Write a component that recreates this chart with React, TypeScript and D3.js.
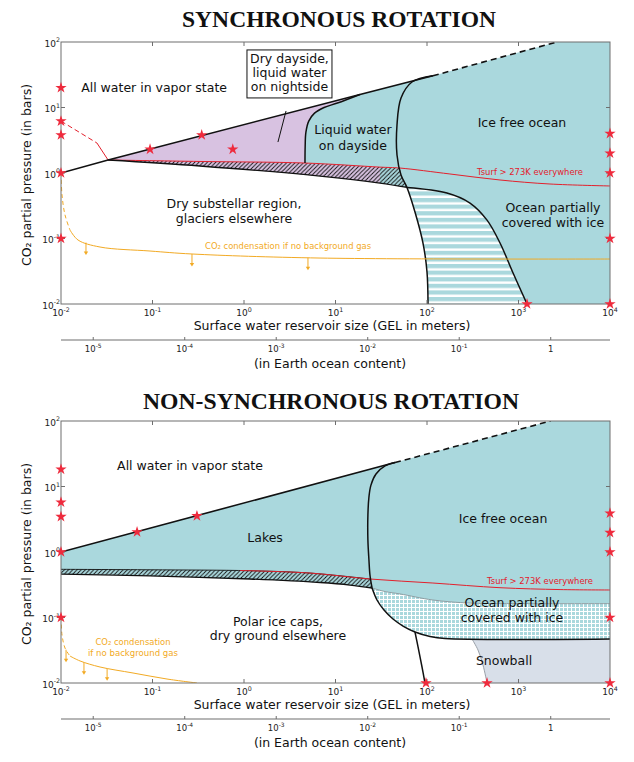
import React from 'react';
import * as d3 from 'd3';

type P = [number, number];

// axis ticks
const gelTicks = [1e-2, 1e-1, 1, 10, 100, 1e3, 1e4];
const gelTickExp = ['-2', '-1', '0', '1', '2', '3', '4'];
const pTicks = [1e-2, 1e-1, 1, 10, 100];
const pTickExp = ['-2', '-1', '0', '1', '2'];
const oceanTicks = [1e-5, 1e-4, 1e-3, 1e-2, 1e-1, 1];
const oceanTickExp = ['-5', '-4', '-3', '-2', '-1', ''];
const EARTH_OCEAN_GEL = 2250; // meters of GEL for one Earth ocean

// ---------- synchronous rotation ----------
const syncVapor: P[] = [[0.01, 1], [0.0327, 1.58], [18.5, 15.8], [116, 30.5]];
const syncVaporDashed: P[] = [[116, 30.5], [2630, 100]];
const syncDayside: P[] = [[4.64, 1.42], [4.66, 2.5], [4.75, 4.2], [5.1, 6.2], [5.9, 8.2], [7.5, 10.0], [10.5, 11.7], [18.5, 15.8]];
const syncOcean: P[] = [[116, 30.5], [68.5, 24.5], [52, 13.96], [47, 5.41], [47, 1.88], [52, 0.931], [60.4, 0.601], [73.9, 0.254], [90.4, 0.0853], [100, 0.0308], [102.6, 0.01]];
const syncIceEdge: P[] = [[60.4, 0.601], [165, 0.495], [295, 0.348], [453, 0.191], [628, 0.0853], [872, 0.0297], [1239, 0.01]];
const syncBandBottom: P[] = [[0.0327, 1.58], [0.33, 1.28], [6.78, 0.899], [30.6, 0.703], [60.4, 0.601]];
const syncTsurf: P[] = [[0.0327, 1.58], [0.33, 1.5], [4.64, 1.42], [30.6, 1.23], [50.7, 1.19], [178, 0.966], [628, 0.782], [2208, 0.679], [1e4, 0.634]];
const syncTsurfDashed: P[] = [[0.01, 6.2], [0.0247, 2.87]];
const syncTsurfLink: P[] = [[0.0247, 2.87], [0.0327, 1.58]];
const syncCo2Dashed: P[] = [[0.01, 1], [0.01026, 0.461], [0.01106, 0.229], [0.01253, 0.135]];
const syncCo2: P[] = [[0.01253, 0.135], [0.01535, 0.0948], [0.0267, 0.0741], [0.094, 0.0644], [0.27, 0.058], [6.78, 0.0503], [1e4, 0.0486]];
const syncArrows = [0.01875, 0.27, 5.0];
const syncStars: P[] = [
  [0.01, 20], [0.01, 6.2], [0.01, 3.8], [0.01, 1], [0.01, 0.1],
  [0.094, 2.3], [0.345, 3.8], [0.754, 2.3],
  [1e4, 4], [1e4, 2], [1e4, 1], [1e4, 0.1], [1e4, 0.01], [1239, 0.01],
];

// ---------- non-synchronous rotation ----------
const nsVapor: P[] = [[0.01, 1], [44.7, 23.2]];
const nsVaporDashed: P[] = [[44.7, 23.2], [2240, 100]];
const nsOceanUpper: P[] = [[44.7, 23.2], [34.8, 20.6], [27.7, 15.5], [24.4, 10.5], [23.2, 6.92], [22.6, 3.67], [22.6, 1.52], [23.2, 0.755], [23.8, 0.446], [25.1, 0.282]];
const nsOceanLower: P[] = [[25.1, 0.282], [28.4, 0.185], [33.9, 0.13], [42.5, 0.0948], [54.7, 0.0741], [73.9, 0.0601], [108, 0.0513], [157, 0.0477], [1e4, 0.047]];
const nsDryEdge: P[] = [[73.9, 0.0601], [79.8, 0.0355], [88.2, 0.01754], [95, 0.01]];
const nsBandTop: P[] = [[0.01, 0.544], [0.094, 0.535], [1.16, 0.518], [5.26, 0.477], [23.8, 0.387]];
const nsBandBottom: P[] = [[0.01, 0.461], [0.094, 0.431], [1.16, 0.387], [6.78, 0.342], [14.4, 0.313], [25.1, 0.282]];
const nsTsurf: P[] = [[0.9, 0.522], [5.26, 0.477], [23.8, 0.387], [116, 0.336], [628, 0.285], [2845, 0.267], [1e4, 0.263]];
const nsIceTop: P[] = [[25.1, 0.282], [34.8, 0.249], [50.7, 0.229], [116, 0.185], [295, 0.166], [1037, 0.163], [1e4, 0.163]];
const nsSnowEdge: P[] = [[310, 0.047], [361, 0.0319], [409, 0.01884], [453, 0.01]];
const nsCo2Dashed: P[] = [[0.01, 0.1], [0.01026, 0.054], [0.01106, 0.0342], [0.01253, 0.0258]];
const nsCo2: P[] = [[0.01253, 0.0258], [0.01615, 0.0217], [0.0267, 0.01755], [0.0612, 0.01422], [0.144, 0.0115], [0.306, 0.01]];
const nsArrows = [0.01135, 0.01782, 0.0319];
const nsStars: P[] = [
  [0.01, 18.3], [0.01, 5.74], [0.01, 3.46], [0.01, 1], [0.01, 0.1],
  [0.0678, 2.02], [0.306, 3.55],
  [1e4, 3.9], [1e4, 1.97], [1e4, 1], [1e4, 0.1], [1e4, 0.01], [97.5, 0.01], [453, 0.01],
];

const X0 = 61, X1 = 610, PH = 262;
const FONT = 'DejaVu Sans, sans-serif';
const TEAL = '#aad8dd', PURPLE = '#d8c2e1', SNOW = '#d8dfe9';
const RED = '#e3202c', STAR = '#ee2b3d', ORANGE = '#f2aa24', INK = '#111';

const smooth = d3.curveCatmullRom.alpha(0.5);

function makeTools(x, y) {
  const seg = (pts: P[], curve: any = smooth) =>
    d3.line<P>().x(d => x(d[0])).y(d => y(d[1])).curve(curve)(pts) as string;
  const poly = (...parts: string[]) => parts.map((s, i) => (i ? s.replace(/^M/, 'L') : s)).join('') + 'Z';
  const rev = (pts: P[]) => pts.slice().reverse();
  return { seg, poly, rev };
}

// value of a log-log polyline at xv
function interpLog(pts: P[], xv: number) {
  const lx = Math.log10(xv);
  for (let i = 0; i < pts.length - 1; i++) {
    const a = Math.log10(pts[i][0]), b = Math.log10(pts[i + 1][0]);
    if (lx >= a && lx <= b) {
      const t = (lx - a) / (b - a);
      return Math.pow(10, Math.log10(pts[i][1]) + t * (Math.log10(pts[i + 1][1]) - Math.log10(pts[i][1])));
    }
  }
  return pts[pts.length - 1][1];
}

function Pow({ x, y, exp, anchor, size = 9 }) {
  return (
    <text x={x} y={y} textAnchor={anchor} fontFamily={FONT} fontSize={size} fill="#222">
      10<tspan fontSize={size * 0.7} dy={-size * 0.45}>{exp}</tspan>
    </text>
  );
}

function Stars({ pts, x, y }) {
  const star = d3.symbol(d3.symbolStar, 40)() as string;
  return <g>{pts.map((p, i) => <path key={i} d={star} transform={`translate(${x(p[0])},${y(p[1])})`} fill={STAR} />)}</g>;
}

function Arrows({ xs, line, x, y }) {
  return (
    <g>
      {xs.map((v, i) => {
        const px = x(v), py = y(interpLog(line, v));
        return (
          <g key={i}>
            <line x1={px} x2={px} y1={py} y2={py + 10} stroke={ORANGE} strokeWidth={1} />
            <path d={`M${px - 2.2},${py + 9}L${px + 2.2},${py + 9}L${px},${py + 12.5}Z`} fill={ORANGE} />
          </g>
        );
      })}
    </g>
  );
}

function Lines({ lines, x, y, size = 12.5, color = INK, gap = 15, anchor = 'middle', at, widths = null }) {
  const cx = x(at[0]), cy = y(at[1]);
  const n = lines.length;
  return (
    <g>
      {lines.map((l, i) => (
        <text key={i} x={cx} y={cy + (i - (n - 1) / 2) * gap} dominantBaseline="central"
          fontFamily={FONT} fontSize={size} fill={color} textAnchor={anchor}
          textLength={widths ? widths[i] : undefined} lengthAdjust={widths ? 'spacingAndGlyphs' : undefined}>{l}</text>
      ))}
    </g>
  );
}

function Frame({ top, title, titleX, titleY, titleW, draw }) {
  const x = d3.scaleLog().domain([1e-2, 1e4]).range([X0, X1]);
  const y = d3.scaleLog().domain([1e-2, 1e2]).range([top + PH, top]);
  const bottom = top + PH;
  const clipId = `clip${top}`;
  const parts = draw(x, y, makeTools(x, y));
  const ocean = d3.scaleLog().domain([1e-2 / EARTH_OCEAN_GEL, 1e4 / EARTH_OCEAN_GEL]).range([X0, X1]);
  const oy = bottom + 36;
  return (
    <g>
      <text x={titleX} y={titleY} textLength={titleW} lengthAdjust="spacingAndGlyphs"
        fontFamily="Liberation Serif, serif" fontWeight="bold" fontSize={23} fill={INK}>{title}</text>
      <defs>
        <clipPath id={clipId}><rect x={X0} y={top} width={X1 - X0} height={PH} /></clipPath>
      </defs>
      <g clipPath={`url(#${clipId})`}>{parts.body}</g>
      <rect x={X0} y={top} width={X1 - X0} height={PH} fill="none" stroke="#6e6e6e" strokeWidth={1} />
      {gelTicks.slice(1, -1).map(t => (
        <g key={t}>
          <line x1={x(t)} x2={x(t)} y1={top} y2={top + 4} stroke="#6e6e6e" />
          <line x1={x(t)} x2={x(t)} y1={bottom} y2={bottom - 4} stroke="#6e6e6e" />
        </g>
      ))}
      {pTicks.slice(1, -1).map(t => (
        <g key={t}>
          <line x1={X0} x2={X0 + 4} y1={y(t)} y2={y(t)} stroke="#6e6e6e" />
          <line x1={X1} x2={X1 - 4} y1={y(t)} y2={y(t)} stroke="#6e6e6e" />
        </g>
      ))}
      {pTicks.map((t, i) => <Pow key={t} x={X0 - 1} y={y(t) + 4.5} exp={pTickExp[i]} anchor="end" />)}
      {gelTicks.map((t, i) => <Pow key={t} x={x(t)} y={bottom + 12} exp={gelTickExp[i]} anchor="middle" />)}
      <text x={332} y={bottom + 25.5} textAnchor="middle" fontFamily={FONT} fontSize={12.5} fill={INK}>
        Surface water reservoir size (GEL in meters)
      </text>
      <text transform={`translate(31,${top + PH / 2 + 2}) rotate(-90)`} textAnchor="middle" fontFamily={FONT} fontSize={12.5} fill={INK}>
        CO₂ partial pressure (in bars)
      </text>
      <line x1={X0} x2={X1} y1={oy} y2={oy} stroke="#6e6e6e" strokeWidth={1.2} />
      {oceanTicks.map((t, i) => (
        <g key={t}>
          <line x1={ocean(t)} x2={ocean(t)} y1={oy} y2={oy - 3} stroke="#6e6e6e" />
          {oceanTickExp[i] ? <Pow x={ocean(t)} y={oy + 12} exp={oceanTickExp[i]} anchor="middle" size={8.5} />
            : <text x={ocean(t)} y={oy + 12} textAnchor="middle" fontFamily={FONT} fontSize={8.5} fill="#222">1</text>}
        </g>
      ))}
      <text x={330} y={oy + 28} textAnchor="middle" fontFamily={FONT} fontSize={12.5} fill={INK}>
        (in Earth ocean content)
      </text>
      {parts.over}
    </g>
  );
}

function Defs() {
  return (
    <defs>
      <pattern id="hatch" patternUnits="userSpaceOnUse" width={4.2} height={4.2}>
        <path d="M-1,1 L1,-1 M0,4.2 L4.2,0 M3.2,5.2 L5.2,3.2" stroke="#111" strokeWidth={0.9} />
      </pattern>
      <pattern id="stripes" patternUnits="userSpaceOnUse" width={10} height={6.6}>
        <rect width={10} height={6.6} fill={TEAL} />
        <rect y={4.2} width={10} height={2.4} fill="#fff" />
      </pattern>
      <pattern id="grid" patternUnits="userSpaceOnUse" width={4} height={4}>
        <rect width={4} height={4} fill="#fff" />
        <rect width={3} height={3} fill={TEAL} />
      </pattern>
    </defs>
  );
}

function SyncPanel() {
  return (
    <Frame top={42} title="SYNCHRONOUS ROTATION" titleX={182} titleY={26.5} titleW={314}
      draw={(x, y, { seg, poly, rev }) => {
        const lin = d3.curveLinear;
        const purple = poly(seg(syncVapor.slice(1, 3), lin), seg(rev(syncDayside)), seg(syncTsurf.slice(2, 4), lin),
          seg(rev(syncBandBottom.slice(0, 4))));
        const teal = poly(seg(syncDayside), seg(syncVapor.slice(2), lin), seg(syncVaporDashed, lin),
          seg([[1e4, 100], [1e4, 0.01]], lin), seg(rev(syncIceEdge)), seg(rev(syncBandBottom.slice(3)), lin),
          seg(rev(syncTsurf.slice(2, 4)), lin));
        const hatch = poly(seg(syncTsurf.slice(0, 5)), seg(syncOcean.slice(5, 7)), seg(rev(syncBandBottom)));
        const striped = poly(seg(syncOcean.slice(6)), seg(rev(syncIceEdge)));
        return {
          body: (
            <g>
              <path d={teal} fill={TEAL} />
              <path d={purple} fill={PURPLE} />
              <path d={striped} fill="url(#stripes)" />
              <path d={hatch} fill="url(#hatch)" />
              <path d={seg(syncTsurf)} fill="none" stroke={RED} strokeWidth={1} />
              <path d={seg(syncTsurfDashed, lin)} fill="none" stroke={RED} strokeWidth={1} strokeDasharray="5,3" />
              <path d={seg(syncTsurfLink, lin)} fill="none" stroke={RED} strokeWidth={1} />
              <path d={seg(syncBandBottom)} fill="none" stroke="#111" strokeWidth={1.3} />
              <path d={seg(syncDayside)} fill="none" stroke="#111" strokeWidth={1.5} />
              <path d={seg(syncOcean)} fill="none" stroke="#111" strokeWidth={1.5} />
              <path d={seg(syncIceEdge)} fill="none" stroke="#111" strokeWidth={1.5} />
              <path d={seg(syncVapor, lin)} fill="none" stroke="#111" strokeWidth={1.6} />
              <path d={seg(syncVaporDashed, lin)} fill="none" stroke="#111" strokeWidth={1.6} strokeDasharray="6,4" />
              <path d={seg(syncCo2Dashed)} fill="none" stroke={ORANGE} strokeWidth={1} strokeDasharray="4,3" />
              <path d={seg(syncCo2)} fill="none" stroke={ORANGE} strokeWidth={1} />
              <Arrows xs={syncArrows} line={syncCo2} x={x} y={y} />
              <line x1={x(2.88)} y1={y(8.85)} x2={x(2.35)} y2={y(2.97)} stroke="#111" strokeWidth={1} />
              <Lines lines={['All water in vapor state']} at={[0.104, 19.9]} x={x} y={y} />
              <Lines lines={['Liquid water', 'on dayside']} at={[15.5, 3.46]} x={x} y={y} gap={15.5} />
              <Lines lines={['Ice free ocean']} at={[1091, 6.0]} x={x} y={y} />
              <Lines lines={['Dry substellar region,', 'glaciers elsewhere']} at={[0.778, 0.263]} x={x} y={y} gap={14.5} />
              <Lines lines={['Ocean partially', 'covered with ice']} at={[2383, 0.2286]} x={x} y={y} gap={14.5} />
              <Lines lines={['Tsurf > 273K everywhere']} at={[352, 1.047]} x={x} y={y} size={8.6} color={RED} anchor="start" widths={[106]} />
              <Lines lines={['CO₂ condensation if no background gas']} at={[0.375, 0.0767]} x={x} y={y} size={8.6} color={ORANGE} anchor="start" widths={[166]} />
            </g>
          ),
          over: (
            <g>
              <rect x={x(3.14) - 42.5} y={y(52.3) - 10.5} width={85} height={48} fill="#fff" stroke="#111" strokeWidth={1} />
              <Lines lines={['Dry dayside,', 'liquid water', 'on nightside']} at={[3.14, 33.9]} x={x} y={y} gap={14} />
              <Stars pts={syncStars} x={x} y={y} />
            </g>
          ),
        };
      }} />
  );
}

function NonSyncPanel() {
  return (
    <Frame top={421} title="NON-SYNCHRONOUS ROTATION" titleX={143} titleY={409} titleW={376}
      draw={(x, y, { seg, poly, rev }) => {
        const lin = d3.curveLinear;
        const teal = poly(seg(nsVapor, lin), seg(nsVaporDashed, lin), seg([[1e4, 100], [1e4, 0.163]], lin),
          seg(rev(nsIceTop)), seg(rev(nsBandBottom)));
        const hatch = poly(seg(nsBandTop), seg(rev(nsBandBottom)));
        const grid = poly(seg(nsIceTop), seg([[1e4, 0.163], [1e4, 0.047]], lin), seg(rev(nsOceanLower)));
        const snow = poly(seg(nsSnowEdge), seg([[453, 0.01], [1e4, 0.01], [1e4, 0.047]], lin));
        return {
          body: (
            <g>
              <path d={teal} fill={TEAL} />
              <path d={grid} fill="url(#grid)" />
              <path d={snow} fill={SNOW} />
              <path d={hatch} fill="url(#hatch)" />
              <path d={seg(nsIceTop)} fill="none" stroke="#8d9ea3" strokeWidth={1} />
              <path d={seg(nsSnowEdge)} fill="none" stroke="#9aa0a8" strokeWidth={1} />
              <path d={seg(nsBandTop)} fill="none" stroke="#111" strokeWidth={0.9} />
              <path d={seg(nsTsurf)} fill="none" stroke={RED} strokeWidth={1} />
              <path d={seg(nsBandBottom)} fill="none" stroke="#111" strokeWidth={1.3} />
              <path d={seg(nsOceanUpper)} fill="none" stroke="#111" strokeWidth={1.5} />
              <path d={seg(nsOceanLower)} fill="none" stroke="#111" strokeWidth={1.5} />
              <path d={seg(nsDryEdge)} fill="none" stroke="#111" strokeWidth={1.5} />
              <path d={seg(nsVapor, lin)} fill="none" stroke="#111" strokeWidth={1.6} />
              <path d={seg(nsVaporDashed, lin)} fill="none" stroke="#111" strokeWidth={1.6} strokeDasharray="6,4" />
              <path d={seg(nsCo2Dashed)} fill="none" stroke={ORANGE} strokeWidth={1} strokeDasharray="4,3" />
              <path d={seg(nsCo2)} fill="none" stroke={ORANGE} strokeWidth={1} />
              <Arrows xs={nsArrows} line={[...nsCo2Dashed, ...nsCo2.slice(1)]} x={x} y={y} />
              <Lines lines={['All water in vapor state']} at={[0.257, 20.6]} x={x} y={y} />
              <Lines lines={['Lakes']} at={[1.7, 1.69]} x={x} y={y} />
              <Lines lines={['Ice free ocean']} at={[678, 3.3]} x={x} y={y} />
              <Lines lines={['Polar ice caps,', 'dry ground elsewhere']} at={[2.35, 0.0679]} x={x} y={y} gap={14.5} />
              <Lines lines={['Ocean partially', 'covered with ice']} at={[849, 0.13]} x={x} y={y} gap={14.5} />
              <Lines lines={['Snowball']} at={[695, 0.0217]} x={x} y={y} />
              <Lines lines={['Tsurf > 273K everywhere']} at={[453, 0.361]} x={x} y={y} size={8.6} color={RED} anchor="start" widths={[106]} />
              <Lines lines={['CO₂ condensation', 'if no background gas']} at={[0.0612, 0.0348]} x={x} y={y} size={8.6} color={ORANGE} gap={11} widths={[75, 90]} />
            </g>
          ),
          over: <Stars pts={nsStars} x={x} y={y} />,
        };
      }} />
  );
}

export default function App() {
  return (
    <div style={{ position: 'absolute', left: 0, top: 0 }}>
      <svg width={634} height={762} style={{ display: 'block', background: '#fff' }}>
        <Defs />
        <SyncPanel />
        <NonSyncPanel />
      </svg>
    </div>
  );
}
